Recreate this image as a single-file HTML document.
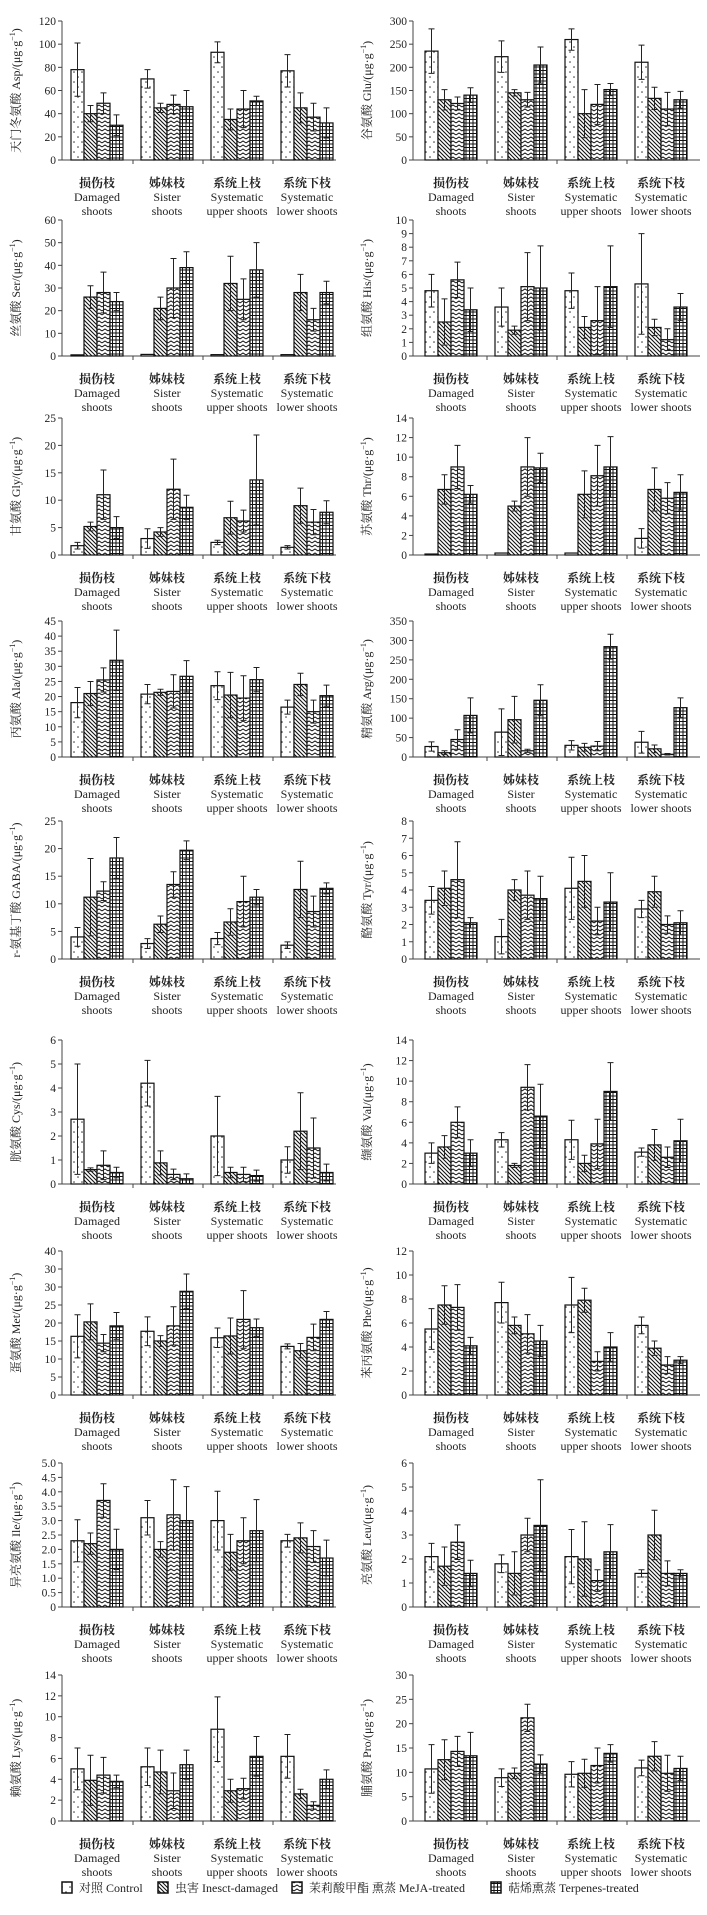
<!DOCTYPE html>
<html><head><meta charset="utf-8"><style>
html,body{margin:0;padding:0;background:#fff;width:707px;height:1915px;overflow:hidden}
svg{display:block}
text{font-family:"Liberation Serif","Noto Serif CJK SC",serif;fill:#222}
</style></head><body>
<svg id="fig" width="707" height="1915" viewBox="0 0 707 1915" xmlns="http://www.w3.org/2000/svg">
<defs>
<pattern id="pDots" width="8" height="10" patternUnits="userSpaceOnUse"><rect width="8" height="10" fill="#fff"/><circle cx="2" cy="2" r="0.8" fill="#333"/><circle cx="6" cy="7" r="0.8" fill="#333"/></pattern>
<pattern id="pDiag" width="4" height="4" patternUnits="userSpaceOnUse"><rect width="4" height="4" fill="#fff"/><path d="M-1,-1 L5,5 M-1,3 L1,5 M3,-1 L5,1" stroke="#111" stroke-width="1.1"/></pattern>
<pattern id="pWave" width="6" height="4" patternUnits="userSpaceOnUse"><rect width="6" height="4" fill="#fff"/><path d="M0,3 L3,1 L6,3" stroke="#111" stroke-width="1" fill="none"/></pattern>
<pattern id="pGrid" width="3.5" height="3.5" patternUnits="userSpaceOnUse"><rect width="3.5" height="3.5" fill="#fff"/><path d="M0,0.5 H3.5 M0.5,0 V3.5" stroke="#111" stroke-width="1"/></pattern>
</defs>
</svg>
<script>
const categoriesZh = ["损伤枝","姊妹枝","系统上枝","系统下枝"];
const categoriesEn1 = ["Damaged","Sister","Systematic","Systematic"];
const categoriesEn2 = ["shoots","shoots","upper shoots","lower shoots"];
const seriesNames = ["对照 Control","虫害 Inesct-damaged","茉莉酸甲酯 熏蒸 MeJA-treated","萜烯熏蒸 Terpenes-treated"];

const aspVal=[[78,40,49,30],[70,45,48,46],[93,35,44,51],[77,45,37,32]];
const aspErr=[[23,7,9,9],[8,4,8,14],[9,9,16,4],[14,13,12,13]];
const gluVal=[[235,130,122,140],[223,145,130,205],[260,100,120,152],[211,133,110,130]];
const gluErr=[[48,22,14,16],[34,7,16,39],[23,52,43,13],[37,24,36,18]];
const serVal=[[0.5,26,28,24],[0.7,21,30,39],[0.6,32,25,38],[0.6,28,16,28]];
const serErr=[[0,5,9,4],[0,5,13,7],[0,12,9,12],[0,8,5,5]];
const hisVal=[[4.8,2.5,5.6,3.4],[3.6,1.9,5.1,5.0],[4.8,2.1,2.6,5.1],[5.3,2.1,1.2,3.6]];
const hisErr=[[1.2,1.7,1.3,1.6],[1.4,0.3,2.5,3.1],[1.3,0.8,2.5,3.0],[3.7,0.6,0.8,1.0]];
const glyVal=[[1.7,5.2,11,5],[3,4.2,12,8.7],[2.3,6.8,6.2,13.7],[1.4,9,6,7.8]];
const glyErr=[[0.6,0.8,4.5,2],[1.8,0.8,5.5,2.2],[0.4,3,2,8.2],[0.3,3.2,2.3,2.1]];
const thrVal=[[0.1,6.7,9,6.2],[0.2,5,9,8.9],[0.2,6.2,8.1,9],[1.7,6.7,5.8,6.4]];
const thrErr=[[0,1.5,2.2,0.9],[0,0.5,3,1.5],[0,2.4,3.1,3.1],[1,2.2,1.6,1.8]];
const alaVal=[[18,21,25.5,32],[20.8,21.4,21.7,26.7],[23.6,20.5,19.5,25.6],[16.5,24,15,20.3]];
const alaErr=[[5,4,4,10],[3.2,1,5.5,5.2],[4.6,7.5,7.4,4],[2.3,3.7,3.8,3.5]];
const argVal=[[27,11,45,107],[64,96,16,146],[30,25,28,284],[38,21,7,127]];
const argErr=[[12,5,25,45],[60,60,4,40],[12,10,12,32],[28,10,2,25]];
const gabaVal=[[4,11.2,12.3,18.3],[2.8,6.3,13.5,19.7],[3.7,6.7,10.4,11.2],[2.5,12.6,8.6,12.8]];
const gabaErr=[[1.7,7,1.7,3.7],[0.9,1.5,2.3,1.7],[1.1,2.4,4.6,1.4],[0.6,5.1,2.8,1]];
const tyrVal=[[3.4,4.1,4.6,2.1],[1.3,4,3.7,3.5],[4.1,4.5,2.2,3.3],[2.9,3.9,2,2.1]];
const tyrErr=[[0.8,1,2.2,0.3],[1,0.6,1.4,1.3],[1.8,1.5,0.8,1.7],[0.5,0.9,0.5,0.7]];
const cysVal=[[2.7,0.6,0.78,0.48],[4.2,0.88,0.4,0.22],[2.0,0.48,0.4,0.35],[1.0,2.2,1.5,0.48]];
const cysErr=[[2.3,0.07,0.6,0.22],[0.95,0.5,0.22,0.2],[1.65,0.22,0.3,0.23],[0.55,1.6,1.25,0.35]];
const valVal=[[3,3.6,6,3],[4.3,1.8,9.4,6.6],[4.3,2,3.9,9],[3.1,3.8,2.6,4.2]];
const valErr=[[1,1.1,1.5,1.3],[0.7,0.2,2.2,3.1],[1.9,0.8,2.4,2.8],[0.4,1.5,1,2.1]];
const metVal=[[16.3,20.3,14.4,19.2],[17.7,15,19.2,28.8],[15.9,16.4,21,18.7],[13.5,12.3,16,21]];
const metErr=[[6,5,2.4,3.7],[4,1.5,5.3,4.8],[2.7,5,8,2.4],[0.7,2,3.7,2.2]];
const pheVal=[[5.5,7.5,7.3,4.1],[7.7,5.8,5.1,4.5],[7.5,7.9,2.8,4],[5.8,3.9,2.5,2.9]];
const pheErr=[[1.7,1.6,1.9,0.7],[1.7,0.7,1.6,1.3],[2.3,1,0.8,1.2],[0.7,0.6,0.7,0.3]];
const ileVal=[[2.3,2.2,3.7,2],[3.1,2,3.2,3],[3,1.9,2.3,2.65],[2.3,2.4,2.1,1.7]];
const ileErr=[[0.73,0.37,0.58,0.7],[0.6,0.27,1.22,1.18],[1.02,0.62,0.8,1.08],[0.22,0.52,0.55,0.62]];
const leuVal=[[2.1,1.7,2.7,1.4],[1.8,1.4,3,3.4],[2.1,2,1.1,2.3],[1.4,3,1.4,1.4]];
const leuErr=[[0.55,0.8,0.72,0.55],[0.37,0.9,0.7,1.9],[1.13,1.55,0.45,1.13],[0.15,1.03,0.52,0.15]];
const lysVal=[[5,3.9,4.4,3.8],[5.2,4.7,2.9,5.4],[8.8,2.9,3.1,6.2],[6.2,2.6,1.5,4]];
const lysErr=[[2,2.4,1.7,0.6],[1.8,2.1,1.7,1.4],[3.1,1.1,1,1.9],[2.1,0.45,0.35,0.9]];
const proVal=[[10.7,12.6,14.3,13.4],[8.9,9.8,21.2,11.7],[9.6,9.8,11.4,13.9],[10.9,13.3,9.8,10.8]];
const proErr=[[5,4.1,3.1,4.8],[1.8,1.1,2.8,1.9],[2.6,2.9,3.6,1.8],[1.6,3,3.7,2.5]];

const ticksAsp=["0","20","40","60","80","100","120"];
const ticksGlu=["0","50","100","150","200","250","300"];
const ticksSer=["0","10","20","30","40","50","60"];
const ticksHis=["0","1","2","3","4","5","6","7","8","9","10"];
const ticksGly=["0","5","10","15","20","25"];
const ticksThr=["0","2","4","6","8","10","12","14"];
const ticksAla=["0","5","10","15","20","25","30","35","40","45"];
const ticksArg=["0","50","100","150","200","250","300","350"];
const ticksGaba=["0","5","10","15","20","25"];
const ticksTyr=["0","1","2","3","4","5","6","7","8"];
const ticksCys=["0","1","2","3","4","5","6"];
const ticksVal=["0","2","4","6","8","10","12","14"];
const ticksMet=["0","5","10","15","20","25","30","30","40"];
const ticksPhe=["0","2","4","6","8","10","12"];
const ticksIle=["0","0.5","1.0","1.5","2.0","2.5","3.0","3.5","4.0","4.5","5.0"];
const ticksLeu=["0","1","2","3","4","5","6"];
const ticksLys=["0","2","4","6","8","10","12","14"];
const ticksPro=["0","5","10","15","20","25","30"];

const NS="http://www.w3.org/2000/svg";
const svg=document.getElementById('fig');
function mk(tag,attrs,parent){const e=document.createElementNS(NS,tag);for(const k in attrs)e.setAttribute(k,attrs[k]);(parent||svg).appendChild(e);return e;}
const fills=["url(#pDots)","url(#pDiag)","url(#pWave)","url(#pGrid)"];
const seriesKeys=["control","insect-damaged","meja-treated","terpenes-treated"];

function panel(key,title,vals,errs,ticks,ymax,side,zeroY,topY){
  const g=mk('g',{});
  
  
  const ax= side===0?62:413, axEnd= side===0?336:700, off= side===0?9:12;
  const y=v=>zeroY-(v/ymax)*(zeroY-topY);
  const xg=i=>ax+off+i*70;
  const bw=13;
  // y axis
  const yl=mk('line',{x1:ax,y1:topY,x2:ax,y2:zeroY,stroke:'#444','stroke-width':1},g);
  
  
  const n=ticks.length-1;
  ticks.forEach((t,i)=>{
    const ty=zeroY-i*(zeroY-topY)/n;
    mk('line',{x1:ax-4,y1:ty,x2:ax,y2:ty,stroke:'#444','stroke-width':1},g);
    const tx=mk('text',{x:ax-6,y:ty+4,'font-size':11.5,'text-anchor':'end'},g);
    tx.textContent=t;
    
    
  });
  const xl=mk('line',{x1:ax,y1:zeroY,x2:axEnd,y2:zeroY,stroke:'#444','stroke-width':1},g);
  
  
  for(let k=1;k<4;k++){const tx=ax+off-8+k*70;mk('line',{x1:tx,y1:zeroY,x2:tx,y2:zeroY+4,stroke:'#444','stroke-width':1},g);}
  // y title
  const cy=(zeroY+topY)/2, tx=ax-42;
  const tt=mk('text',{x:tx,y:cy,'font-size':12,'text-anchor':'middle',transform:`rotate(-90 ${tx} ${cy})`},g);
  tt.innerHTML=title+'/(μg·g<tspan dy="-5" font-size="8">−1</tspan><tspan dy="5">)</tspan>';
  
  
  // bars
  for(let i=0;i<4;i++){
    for(let s=0;s<4;s++){
      const v=vals[i][s], e=errs[i][s];
      const x=xg(i)+s*bw;
      const r=mk('rect',{x:x,y:y(v),width:bw,height:zeroY-y(v),fill:fills[s],stroke:'#111','stroke-width':1.2},g);
      
      
      if(e>0){
        const cx=x+bw/2,y1=y(v+e),y2=y(Math.max(0,v-e));
        const eb=mk('path',{d:`M${cx},${y1}V${y2}M${cx-3},${y1}H${cx+3}M${cx-3},${y2}H${cx+3}`,stroke:'#222','stroke-width':1,fill:'none'},g);
        
        
      }
    }
    const lx=xg(i)+26;
    [[categoriesZh[i],27],[categoriesEn1[i],41],[categoriesEn2[i],55]].forEach(([t,dy],j)=>{
      const c=mk('text',{x:lx,y:zeroY+dy,'font-size':12,'text-anchor':'middle','font-weight':j===0?'bold':'normal'},g);
      c.textContent=t;
      
      
    });
  }
}
const rows=[[160,21],[356,220],[555,418],[757,621],[959,821],[1184,1040],[1395,1251],[1607,1463],[1821,1675]];
const defs=[
 ["asp","天门冬氨酸 Asp",aspVal,aspErr,ticksAsp,120],["glu","谷氨酸 Glu",gluVal,gluErr,ticksGlu,300],
 ["ser","丝氨酸 Ser",serVal,serErr,ticksSer,60],["his","组氨酸 His",hisVal,hisErr,ticksHis,10],
 ["gly","甘氨酸 Gly",glyVal,glyErr,ticksGly,25],["thr","苏氨酸 Thr",thrVal,thrErr,ticksThr,14],
 ["ala","丙氨酸 Ala",alaVal,alaErr,ticksAla,45],["arg","精氨酸 Arg",argVal,argErr,ticksArg,350],
 ["gaba","r-氨基丁酸 GABA",gabaVal,gabaErr,ticksGaba,25],["tyr","酪氨酸 Tyr",tyrVal,tyrErr,ticksTyr,8],
 ["cys","胱氨酸 Cys",cysVal,cysErr,ticksCys,6],["val","缬氨酸 Val",valVal,valErr,ticksVal,14],
 ["met","蛋氨酸 Met",metVal,metErr,ticksMet,40],["phe","苯丙氨酸 Phe",pheVal,pheErr,ticksPhe,12],
 ["ile","异亮氨酸 Ile",ileVal,ileErr,ticksIle,5],["leu","亮氨酸 Leu",leuVal,leuErr,ticksLeu,6],
 ["lys","赖氨酸 Lys",lysVal,lysErr,ticksLys,14],["pro","脯氨酸 Pro",proVal,proErr,ticksPro,30]
];
defs.forEach((d,i)=>{const r=rows[Math.floor(i/2)];panel(d[0],d[1],d[2],d[3],d[4],d[5],i%2,r[0],r[1]);});
// legend
const lg=mk('g',{});


const lxs=[62,158,292,491];
seriesNames.forEach((nm,s)=>{
  const sw=mk('rect',{x:lxs[s],y:1882,width:10,height:11,fill:fills[s],stroke:'#111','stroke-width':1.5},lg);
  
  
  const t=mk('text',{x:lxs[s]+17,y:1892,'font-size':12},lg);
  t.textContent=nm;
  
  
});
</script>
</body></html>
